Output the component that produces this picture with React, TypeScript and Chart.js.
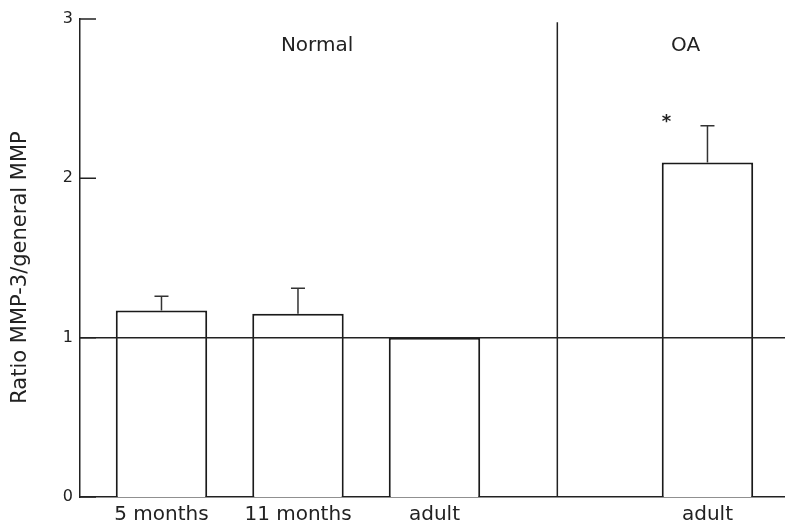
import React, { useEffect, useRef } from "react";
import { Chart, registerables } from "chart.js";

Chart.register(...registerables);

// ---- data ----
const categories = ["5 months", "11 months", "adult", "adult"];
const positions = [1, 2, 3, 5];
const means = [1.17, 1.15, 1.0, 2.1];
const errors = [0.09, 0.16, 0, 0.23];
const yTicks = [0, 1, 2, 3];
const referenceValue = 1;
const separatorPos = 3.9;
const separatorTop = 2.98;
const groupLabels = ["Normal", "OA"];
const groupLabelX = [2.14, 4.84];
const groupLabelY = [2.83, 2.83];
const markTexts = ["*"];
const markX = [4.7];
const markY = [2.35];
const yTitle = "Ratio MMP-3/general MMP";
const yTitleCenter = 1.44;

const INK = "#222";
const FONT = "DejaVu Sans";

const overlay = {
  id: "overlay",
  afterDatasetsDraw(chart: any) {
    const { ctx, chartArea, scales } = chart;
    const x = scales.x;
    const y = scales.y;
    ctx.save();
    ctx.strokeStyle = INK;
    ctx.lineWidth = 1.5;

    // reference line
    const yr = y.getPixelForValue(referenceValue);
    ctx.beginPath();
    ctx.moveTo(chartArea.left, yr);
    ctx.lineTo(chartArea.right, yr);
    ctx.stroke();

    // group separator
    const xs = x.getPixelForValue(separatorPos);
    ctx.beginPath();
    ctx.moveTo(xs, y.getPixelForValue(separatorTop));
    ctx.lineTo(xs, chartArea.bottom);
    ctx.stroke();

    // inward tick marks
    ctx.beginPath();
    yTicks.forEach((v) => {
      const py = y.getPixelForValue(v);
      ctx.moveTo(chartArea.left, py);
      ctx.lineTo(chartArea.left + 16, py);
    });
    ctx.stroke();

    // error bars (upper only)
    const meta = chart.getDatasetMeta(0);
    ctx.lineWidth = 1.5;
    ctx.strokeStyle = "#333";
    meta.data.forEach((bar: any, i: number) => {
      if (!errors[i]) return;
      const base = y.getPixelForValue(means[i]);
      const top = y.getPixelForValue(means[i] + errors[i]);
      ctx.beginPath();
      ctx.moveTo(bar.x, base);
      ctx.lineTo(bar.x, top);
      ctx.moveTo(bar.x - 7, top);
      ctx.lineTo(bar.x + 7, top);
      ctx.stroke();
    });

    // group labels
    ctx.fillStyle = INK;
    ctx.textAlign = "center";
    ctx.textBaseline = "middle";
    ctx.font = `20px "${FONT}"`;
    groupLabels.forEach((t, i) => {
      ctx.fillText(t, x.getPixelForValue(groupLabelX[i]), y.getPixelForValue(groupLabelY[i]));
    });

    // significance marks
    ctx.font = `bold 18px "${FONT}"`;
    markTexts.forEach((t, i) => {
      ctx.fillText(t, x.getPixelForValue(markX[i]), y.getPixelForValue(markY[i]));
    });

    // y axis title
    ctx.font = `21px "${FONT}"`;
    ctx.translate(21, y.getPixelForValue(yTitleCenter));
    ctx.rotate(-Math.PI / 2);
    ctx.fillText(yTitle, 0, 0);
    ctx.restore();
  },
};

export default function App() {
  const ref = useRef<HTMLCanvasElement>(null);

  useEffect(() => {
    if (!ref.current) return;
    Chart.defaults.font.family = FONT;
    const chart = new Chart(ref.current, {
      type: "bar",
      data: {
        datasets: [
          {
            data: positions.map((p, i) => ({ x: p, y: means[i] })),
            backgroundColor: "#ffffff",
            borderColor: "#1a1a1a",
            borderWidth: 2,
            barPercentage: 0.67,
            categoryPercentage: 1,
          },
        ],
      },
      options: {
        responsive: false,
        animation: false,
        devicePixelRatio: 1,
        layout: { padding: { top: 19, left: 0, right: 0, bottom: 0 } },
        plugins: { legend: { display: false }, tooltip: { enabled: false } },
        scales: {
          x: {
            type: "linear",
            min: 0.403,
            max: 5.568,
            offset: false,
            grid: { display: false, offset: false, drawTicks: false },
            border: { display: true, color: INK, width: 1.5 },
            afterBuildTicks: (axis: any) => {
              axis.ticks = positions.map((v) => ({ value: v }));
            },
            afterFit: (scale: any) => {
              scale.height = 27;
            },
            ticks: {
              autoSkip: false,
              maxRotation: 0,
              padding: 6,
              color: INK,
              font: { size: 20, family: FONT },
              callback: (value: any) => {
                const idx = positions.indexOf(Number(value));
                return idx >= 0 ? categories[idx] : "";
              },
            },
          },
          y: {
            type: "linear",
            min: 0,
            max: 3,
            grid: { display: false, drawTicks: false },
            border: { display: true, color: INK, width: 1.5 },
            afterFit: (scale: any) => {
              scale.width = 80;
            },
            afterBuildTicks: (axis: any) => {
              axis.ticks = yTicks.map((v) => ({ value: v }));
            },
            ticks: {
              padding: 7,
              color: INK,
              font: { size: 16, family: FONT },
            },
          },
        },
      },
      plugins: [overlay],
    });
    return () => chart.destroy();
  }, []);

  return (
    <div style={{ position: "fixed", left: 0, top: 0, width: 785, height: 524, background: "#fff" }}>
      <canvas ref={ref} width={785} height={524} />
    </div>
  );
}
